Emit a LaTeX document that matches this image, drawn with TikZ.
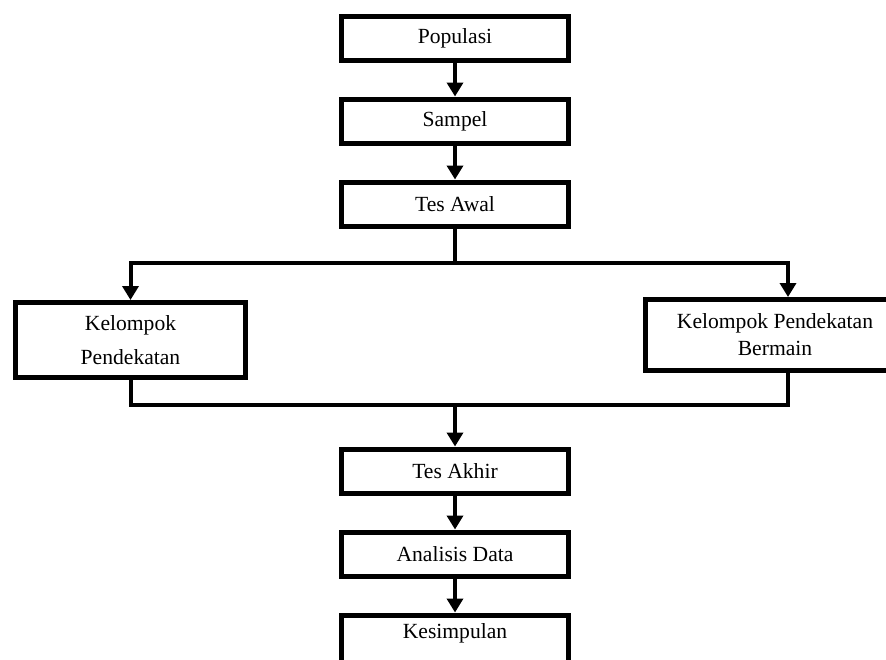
\documentclass[tikz,border=0pt]{standalone}
\usepackage{fontspec}
\setmainfont{Liberation Serif}
\usetikzlibrary{positioning, arrows.meta}

\begin{document}
\begin{tikzpicture}[
  x=0.5pt, y=-0.5pt,
  font=\fontsize{10.8}{13.5}\selectfont,
  node distance=17pt,
  box/.style={
    draw, line width=2.5pt, fill=white, align=center, inner sep=2pt,
    minimum width=113.5pt, minimum height=22pt
  },
  group/.style={box, minimum width=115pt, minimum height=37.5pt},
  link/.style={line width=2pt},
  arrow/.style={link, -{Triangle[length=7pt, width=8pt]}},
]
\useasboundingbox (0,0) rectangle (886,659);

\node[box] (pop) at (455,38) {Populasi};
\node[box, below=of pop] (sampel) {Sampel};
\node[box, below=of sampel] (awal) {Tes Awal};

\node[group] (kel1) at (130.5,340) {\raisebox{-2.5pt}{Kelompok}\\[3.5pt]\raisebox{-2.5pt}{Pendekatan}};
\node[group, minimum width=129.5pt, minimum height=35.5pt] (kel2) at (775,335)
  {Kelompok Pendekatan\\Bermain};

\node[box] (akhir) at (455,471) {Tes Akhir};
\node[box, below=of akhir] (analisis) {Analisis Data};
\node[box, below=of analisis, minimum height=26pt, text depth=10pt] (kes) {Kesimpulan};

\coordinate (fork) at (455,263);
\coordinate (join) at (455,405);

\draw[arrow] (pop) -- (sampel);
\draw[arrow] (sampel) -- (awal);
\draw[link] (awal) -- (fork);
\draw[arrow] (fork) -| (kel1.north);
\draw[arrow] (fork) -| ([xshift=6.5pt]kel2.north);
\draw[link] (kel1.south) |- (join);
\draw[link] ([xshift=6.5pt]kel2.south) |- (join);
\draw[arrow] (join) -- (akhir);
\draw[arrow] (akhir) -- (analisis);
\draw[arrow] (analisis) -- (kes);

\end{tikzpicture}
\end{document}
